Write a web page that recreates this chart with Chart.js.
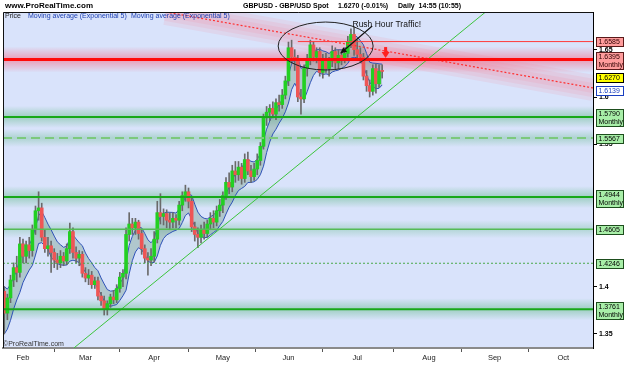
<!DOCTYPE html>
<html>
<head>
<meta charset="utf-8">
<script src="https://cdn.jsdelivr.net/npm/chart.js@4.4.1/dist/chart.umd.min.js"></script>
<style>
  html, body { margin: 0; padding: 0; background: #fff; }
  #chart { display: block; }
</style>
</head>
<body>
<canvas id="chart" width="625" height="375"></canvas>
<script>
// GBPUSD daily candles, 23 Jan 2009 -> 13 Jul 2009
// x = trading day, 0 = Mon 2 Feb 2009
const firstDay = -6;

const open = [
  1.395, 1.372, 1.388, 1.407, 1.420, 1.415, 1.445, 1.432, 1.444, 1.438,
  1.460, 1.480, 1.483, 1.452, 1.440, 1.443, 1.436, 1.428, 1.425, 1.432,
  1.427, 1.440, 1.458, 1.436, 1.430, 1.434, 1.414, 1.409, 1.412, 1.402,
  1.406, 1.390, 1.385, 1.376, 1.382, 1.389, 1.386, 1.398, 1.410, 1.414,
  1.455, 1.466, 1.462, 1.468, 1.456, 1.440, 1.430, 1.428, 1.432, 1.450,
  1.478, 1.474, 1.477, 1.470, 1.468, 1.472, 1.470, 1.486, 1.496, 1.500,
  1.490, 1.463, 1.455, 1.452, 1.460, 1.456, 1.466, 1.472, 1.468, 1.480,
  1.486, 1.496, 1.510, 1.505, 1.522, 1.518, 1.526, 1.514, 1.534, 1.522,
  1.516, 1.524, 1.533, 1.548, 1.578, 1.584, 1.588, 1.582, 1.594, 1.592,
  1.602, 1.617, 1.652, 1.642, 1.640, 1.600, 1.598, 1.630, 1.640, 1.655,
  1.642, 1.648, 1.626, 1.640, 1.630, 1.638, 1.648, 1.636, 1.644, 1.640,
  1.646, 1.658, 1.666, 1.650, 1.645, 1.642, 1.622, 1.612, 1.606, 1.630,
  1.614, 1.6272
];
const high = [
  1.400, 1.392, 1.412, 1.425, 1.432, 1.452, 1.450, 1.448, 1.452, 1.465,
  1.485, 1.500, 1.488, 1.460, 1.452, 1.448, 1.440, 1.435, 1.438, 1.436,
  1.445, 1.467, 1.462, 1.442, 1.438, 1.437, 1.420, 1.418, 1.416, 1.410,
  1.410, 1.394, 1.390, 1.385, 1.392, 1.396, 1.402, 1.415, 1.418, 1.462,
  1.478, 1.472, 1.472, 1.470, 1.460, 1.444, 1.436, 1.440, 1.458, 1.490,
  1.498, 1.482, 1.481, 1.478, 1.478, 1.476, 1.490, 1.500, 1.507, 1.504,
  1.494, 1.468, 1.462, 1.465, 1.468, 1.470, 1.478, 1.480, 1.485, 1.492,
  1.500, 1.515, 1.520, 1.528, 1.532, 1.532, 1.530, 1.540, 1.542, 1.528,
  1.530, 1.540, 1.552, 1.582, 1.590, 1.592, 1.595, 1.598, 1.602, 1.608,
  1.622, 1.658, 1.660, 1.650, 1.644, 1.608, 1.634, 1.645, 1.660, 1.658,
  1.652, 1.652, 1.645, 1.646, 1.642, 1.654, 1.652, 1.650, 1.650, 1.652,
  1.664, 1.672, 1.674, 1.660, 1.652, 1.646, 1.628, 1.618, 1.634, 1.635,
  1.634, 1.634
];
const low = [
  1.350, 1.365, 1.383, 1.400, 1.405, 1.410, 1.425, 1.425, 1.430, 1.432,
  1.455, 1.470, 1.448, 1.436, 1.432, 1.415, 1.420, 1.418, 1.420, 1.422,
  1.423, 1.435, 1.430, 1.425, 1.422, 1.410, 1.405, 1.402, 1.398, 1.398,
  1.386, 1.380, 1.370, 1.370, 1.378, 1.382, 1.383, 1.394, 1.400, 1.408,
  1.448, 1.455, 1.455, 1.450, 1.434, 1.425, 1.412, 1.422, 1.426, 1.446,
  1.466, 1.465, 1.462, 1.460, 1.462, 1.462, 1.465, 1.480, 1.490, 1.483,
  1.458, 1.448, 1.441, 1.446, 1.450, 1.452, 1.460, 1.462, 1.464, 1.474,
  1.478, 1.492, 1.498, 1.500, 1.510, 1.512, 1.508, 1.510, 1.518, 1.510,
  1.512, 1.518, 1.528, 1.545, 1.570, 1.575, 1.578, 1.576, 1.585, 1.588,
  1.598, 1.612, 1.636, 1.628, 1.595, 1.582, 1.594, 1.622, 1.634, 1.638,
  1.636, 1.622, 1.620, 1.626, 1.622, 1.632, 1.630, 1.630, 1.634, 1.636,
  1.642, 1.652, 1.644, 1.640, 1.636, 1.618, 1.606, 1.600, 1.602, 1.604,
  1.610, 1.620
];
const close = [
  1.372, 1.388, 1.407, 1.420, 1.415, 1.445, 1.432, 1.444, 1.438, 1.460,
  1.480, 1.483, 1.452, 1.440, 1.443, 1.436, 1.428, 1.425, 1.432, 1.427,
  1.440, 1.458, 1.436, 1.430, 1.434, 1.414, 1.409, 1.412, 1.402, 1.406,
  1.390, 1.385, 1.376, 1.382, 1.389, 1.386, 1.398, 1.410, 1.414, 1.455,
  1.466, 1.462, 1.468, 1.456, 1.440, 1.430, 1.428, 1.432, 1.450, 1.478,
  1.474, 1.477, 1.470, 1.468, 1.472, 1.470, 1.486, 1.496, 1.500, 1.490,
  1.463, 1.455, 1.452, 1.460, 1.456, 1.466, 1.472, 1.468, 1.480, 1.486,
  1.496, 1.510, 1.505, 1.522, 1.518, 1.526, 1.514, 1.534, 1.522, 1.516,
  1.524, 1.533, 1.548, 1.578, 1.584, 1.588, 1.582, 1.594, 1.592, 1.602,
  1.617, 1.652, 1.642, 1.640, 1.600, 1.598, 1.630, 1.640, 1.655, 1.642,
  1.648, 1.626, 1.640, 1.630, 1.638, 1.648, 1.636, 1.644, 1.640, 1.646,
  1.658, 1.666, 1.650, 1.645, 1.642, 1.622, 1.612, 1.606, 1.630, 1.614,
  1.6272, 1.6270
];

const monthDays = [0, 20, 42, 64, 85, 107, 130, 151, 173];
const monthNames = ['Feb', 'Mar', 'Apr', 'May', 'Jun', 'Jul', 'Aug', 'Sep', 'Oct'];
const priceTicks = [1.35, 1.4, 1.55, 1.6, 1.65];

// support / resistance levels drawn on the chart
const levels = [1.6585, 1.6395, 1.5790, 1.5567, 1.4944, 1.4605, 1.4246, 1.3761];
const levelNotes = ['', 'Monthly', 'Monthly', '', 'Monthly', '', '', 'Monthly'];
const maLast = 1.6139;

// trend lines, [trading day, price] end points
const redTrend = [[45.7, 1.6897], [182.6, 1.6095]];
const greenTrend = [[16.3, 1.3352], [148.1, 1.6897]];

const X_MIN = -6.4, X_MAX = 182.5;
const Y_MIN = 1.3352, Y_MAX = 1.6897;
const FONT = "'Liberation Sans', Arial, sans-serif";

const levelStyle = [
  { color: '#ff3b3b', width: 1, from: 88, box: 'red' },
  { color: '#ff0a0a', width: 3, glow: '255,70,100', glowA: 0.45, glowH: 13, box: 'red' },
  { color: '#18a818', width: 2, glow: '40,165,80', glowA: 0.33, glowH: 11, box: 'green' },
  { color: '#7cc97c', width: 2, dash: [9, 5], glow: '40,165,80', glowA: 0.25, glowH: 9, box: 'green' },
  { color: '#18a818', width: 2, glow: '40,165,80', glowA: 0.33, glowH: 11, box: 'green' },
  { color: '#55bb55', width: 1.5, glow: '40,165,80', glowA: 0.22, glowH: 9, box: 'green' },
  { color: '#4aa84a', width: 1, dash: [2, 2], box: 'green' },
  { color: '#18a818', width: 2, glow: '40,165,80', glowA: 0.33, glowH: 11, box: 'green' }
];
const boxStyle = {
  red:   { fill: '#ff9c9c', stroke: '#5a1a1a', text: '#300000' },
  green: { fill: '#a8eea8', stroke: '#1d4d1d', text: '#000' },
  last:  { fill: '#ffff00', stroke: '#000', text: '#000' },
  ma:    { fill: '#ffffff', stroke: '#1a3fc0', text: '#1a3fc0' }
};

// the two "Moving average (Exponential 5)" indicators, on highs and lows
function ema(src, n) {
  const k = 2 / (n + 1);
  let e = src[0];
  return src.map(v => (e = e + k * (v - e)));
}

const days = close.map((_, i) => i + firstDay);
const asPoints = arr => arr.map((v, i) => ({ x: days[i], y: v }));
const emaHigh = ema(high, 5);
const emaLow = ema(low, 5);

function arrowHead(ctx, x0, y0, x1, y1, len, w) {
  const a = Math.atan2(y1 - y0, x1 - x0);
  const bx = x1 - len * Math.cos(a), by = y1 - len * Math.sin(a);
  ctx.beginPath();
  ctx.moveTo(x1, y1);
  ctx.lineTo(bx + w * Math.sin(a), by - w * Math.cos(a));
  ctx.lineTo(bx - w * Math.sin(a), by + w * Math.cos(a));
  ctx.closePath();
  ctx.fill();
}

function drawTags(chart) {
  const { ctx, chartArea: a, scales: { y } } = chart;
  const tags = levels.map((v, i) => ({ v, note: levelNotes[i], kind: levelStyle[i].box }));
  tags.push({ v: close[close.length - 1], note: '', kind: 'last' });
  tags.push({ v: maLast, note: '', kind: 'ma' });
  tags.sort((p, q) => q.v - p.v);
  ctx.save();
  ctx.font = `7px ${FONT}`;
  ctx.textBaseline = 'middle';
  ctx.textAlign = 'left';
  ctx.lineWidth = 1;
  let prev = -Infinity;
  tags.forEach(t => {
    const h = t.note ? 17 : 9;
    let top = Math.round(y.getPixelForValue(t.v) - (t.note ? 7.5 : 4.5));
    if (top < prev + 4) top = prev + 4;
    prev = top + h;
    const s = boxStyle[t.kind];
    const bx = a.right + 3.5;
    ctx.fillStyle = s.fill;
    ctx.fillRect(bx, top + 0.5, 27, h);
    ctx.strokeStyle = s.stroke;
    ctx.strokeRect(bx, top + 0.5, 27, h);
    ctx.fillStyle = s.text;
    ctx.fillText(t.v.toFixed(4), bx + 2, top + 5);
    if (t.note) ctx.fillText(t.note, bx + 2, top + 13);
  });
  ctx.restore();
}

const decor = {
  id: 'decor',
  beforeDraw(chart) {
    const { ctx, chartArea: a } = chart;
    ctx.save();
    ctx.fillStyle = '#fff';
    ctx.fillRect(0, 0, chart.width, chart.height);
    ctx.fillStyle = '#d9e3fb';
    ctx.fillRect(a.left, a.top, a.right - a.left, a.bottom - a.top);
    ctx.restore();
  },
  beforeDatasetsDraw(chart) {
    const { ctx, chartArea: a, scales: { x, y } } = chart;
    ctx.save();
    ctx.beginPath();
    ctx.rect(a.left, a.top, a.right - a.left, a.bottom - a.top);
    ctx.clip();
    // soft glow round the levels
    levels.forEach((v, i) => {
      const st = levelStyle[i];
      if (!st.glow) return;
      const py = y.getPixelForValue(v), h = st.glowH;
      const g = ctx.createLinearGradient(0, py - h, 0, py + h);
      g.addColorStop(0, `rgba(${st.glow},0)`);
      g.addColorStop(0.5, `rgba(${st.glow},${st.glowA})`);
      g.addColorStop(1, `rgba(${st.glow},0)`);
      ctx.fillStyle = g;
      ctx.fillRect(a.left, py - h, a.right - a.left, 2 * h);
    });
    // pink glow round the falling trend line
    const p0 = [x.getPixelForValue(redTrend[0][0]), y.getPixelForValue(redTrend[0][1])];
    const p1 = [x.getPixelForValue(redTrend[1][0]), y.getPixelForValue(redTrend[1][1])];
    [26, 18, 10].forEach(w => {
      ctx.strokeStyle = 'rgba(255,110,130,0.11)';
      ctx.lineWidth = w;
      ctx.beginPath();
      ctx.moveTo(p0[0], p0[1]);
      ctx.lineTo(p1[0], p1[1]);
      ctx.stroke();
    });
    ctx.restore();
  },
  afterDatasetsDraw(chart) {
    const { ctx, chartArea: a, scales: { x, y } } = chart;
    ctx.save();
    ctx.beginPath();
    ctx.rect(a.left, a.top, a.right - a.left, a.bottom - a.top);
    ctx.clip();

    // "Rush Hour Traffic!" ellipse and arrow
    const cx = x.getPixelForValue(96.9), cy = y.getPixelForValue(1.6538);
    const rx = x.getPixelForValue(96.9 + 15.2) - cx;
    const ry = cy - y.getPixelForValue(1.6538 + 0.0253);
    ctx.strokeStyle = '#222';
    ctx.lineWidth = 1;
    ctx.beginPath();
    ctx.ellipse(cx, cy, rx, ry, 0, 0, Math.PI * 2);
    ctx.stroke();

    const ax0 = x.getPixelForValue(111.8), ay0 = y.getPixelForValue(1.6749);
    const ax1 = x.getPixelForValue(101.7), ay1 = y.getPixelForValue(1.6461);
    ctx.strokeStyle = '#111';
    ctx.lineWidth = 1.2;
    ctx.beginPath();
    ctx.moveTo(ax0, ay0);
    ctx.lineTo(ax1, ay1);
    ctx.stroke();
    ctx.fillStyle = '#111';
    arrowHead(ctx, ax0, ay0, ax1, ay1, 6, 3);

    ctx.font = `8.5px ${FONT}`;
    ctx.fillStyle = '#111';
    ctx.textBaseline = 'middle';
    ctx.textAlign = 'left';
    ctx.fillText('Rush Hour Traffic!', x.getPixelForValue(105.5), y.getPixelForValue(1.676));

    // red down arrow
    const rx0 = x.getPixelForValue(116.1);
    const rTop = y.getPixelForValue(1.6527), rBot = y.getPixelForValue(1.6411);
    ctx.fillStyle = '#ff2020';
    ctx.fillRect(rx0 - 1.5, rTop, 3, (rBot - rTop) * 0.55);
    ctx.beginPath();
    ctx.moveTo(rx0 - 4, rTop + (rBot - rTop) * 0.45);
    ctx.lineTo(rx0 + 4, rTop + (rBot - rTop) * 0.45);
    ctx.lineTo(rx0, rBot);
    ctx.closePath();
    ctx.fill();

    // legend line and watermark
    ctx.font = `7px ${FONT}`;
    ctx.fillStyle = '#222';
    ctx.fillText('Price', 5, 16);
    ctx.fillStyle = '#1c3fb2';
    ctx.fillText('Moving average (Exponential 5)', 28, 16);
    ctx.fillText('Moving average (Exponential 5)', 131, 16);
    ctx.fillStyle = '#333';
    ctx.fillText('\u00a9ProRealTime.com', 3, 344);
    ctx.restore();
  },
  afterDraw(chart) {
    const { ctx, chartArea: a } = chart;
    ctx.save();
    // frame
    ctx.strokeStyle = '#111';
    ctx.lineWidth = 1;
    ctx.beginPath();
    ctx.moveTo(a.left + 0.5, a.bottom);
    ctx.lineTo(a.left + 0.5, a.top + 0.5);
    ctx.lineTo(a.right, a.top + 0.5);
    ctx.stroke();

    // header
    ctx.textBaseline = 'middle';
    ctx.textAlign = 'left';
    ctx.fillStyle = '#000';
    ctx.font = `bold 8px ${FONT}`;
    ctx.fillText('www.ProRealTime.com', 5, 6);
    ctx.font = `bold 7px ${FONT}`;
    ctx.fillText('GBPUSD - GBP/USD Spot', 243, 6);
    ctx.fillText('1.6270 (-0.01%)', 338, 6);
    ctx.fillText('Daily  14:55 (10:55)', 398, 6);
    ctx.restore();

    drawTags(chart);
  }
};

const levelSets = levels.map((v, i) => ({
  type: 'line',
  data: [{ x: levelStyle[i].from ?? X_MIN, y: v }, { x: X_MAX, y: v }],
  borderColor: levelStyle[i].color,
  borderWidth: levelStyle[i].width,
  borderDash: levelStyle[i].dash || [],
  pointRadius: 0,
  order: 1
}));

new Chart(document.getElementById('chart'), {
  type: 'bar',
  data: {
    datasets: [
      ...levelSets,
      {
        type: 'line',
        data: redTrend.map(p => ({ x: p[0], y: p[1] })),
        borderColor: '#ff3030',
        borderWidth: 1.2,
        borderDash: [2, 2],
        pointRadius: 0,
        order: 1
      },
      {
        type: 'line',
        data: greenTrend.map(p => ({ x: p[0], y: p[1] })),
        borderColor: '#3cc43c',
        borderWidth: 1,
        pointRadius: 0,
        order: 1
      },
      {
        // candle bodies
        data: days.map((d, i) => ({ x: d, y: [open[i], close[i]] })),
        backgroundColor: close.map((c, i) => (c >= open[i] ? '#22d022' : '#ee5555')),
        barThickness: 3,
        minBarLength: 1,
        grouped: false,
        order: 2
      },
      {
        // wicks
        data: days.map((d, i) => ({ x: d, y: [low[i], high[i]] })),
        backgroundColor: '#6a6a6a',
        barThickness: 1,
        grouped: false,
        order: 3
      },
      {
        type: 'line',
        data: asPoints(emaHigh),
        borderColor: '#2f52b8',
        borderWidth: 1,
        pointRadius: 0,
        order: 4
      },
      {
        type: 'line',
        data: asPoints(emaLow),
        borderColor: '#2f52b8',
        borderWidth: 1,
        pointRadius: 0,
        fill: '-1',
        backgroundColor: 'rgba(100,145,120,0.35)',
        order: 4
      }
    ]
  },
  options: {
    responsive: false,
    devicePixelRatio: 1,
    animation: false,
    layout: { padding: { left: 3, top: 12, right: 0, bottom: 0 } },
    plugins: { legend: { display: false }, tooltip: { enabled: false } },
    scales: {
      x: {
        type: 'linear',
        min: X_MIN,
        max: X_MAX,
        offset: false,
        afterBuildTicks: s => { s.ticks = monthDays.map(v => ({ value: v })); },
        afterFit: s => { s.height = 27; },
        ticks: {
          autoSkip: false,
          maxRotation: 0,
          padding: 1,
          color: '#222',
          font: { family: FONT, size: 7.5 },
          callback: (v, i) => monthNames[i]
        },
        grid: { drawOnChartArea: false, drawTicks: true, tickLength: 4, color: '#555' },
        border: { display: true, color: '#8a8a8a', width: 2 }
      },
      y: {
        type: 'linear',
        position: 'right',
        min: Y_MIN,
        max: Y_MAX,
        afterBuildTicks: s => { s.ticks = priceTicks.map(v => ({ value: v })); },
        afterFit: s => { s.width = 32; },
        ticks: {
          autoSkip: false,
          padding: 2,
          color: '#000',
          font: { family: FONT, size: 7, weight: 'bold' },
          callback: v => String(v)
        },
        grid: { drawOnChartArea: false, drawTicks: true, tickLength: 4, color: '#000' },
        border: { display: true, color: '#000', width: 1 }
      }
    }
  },
  plugins: [decor]
});
</script>
</body>
</html>
